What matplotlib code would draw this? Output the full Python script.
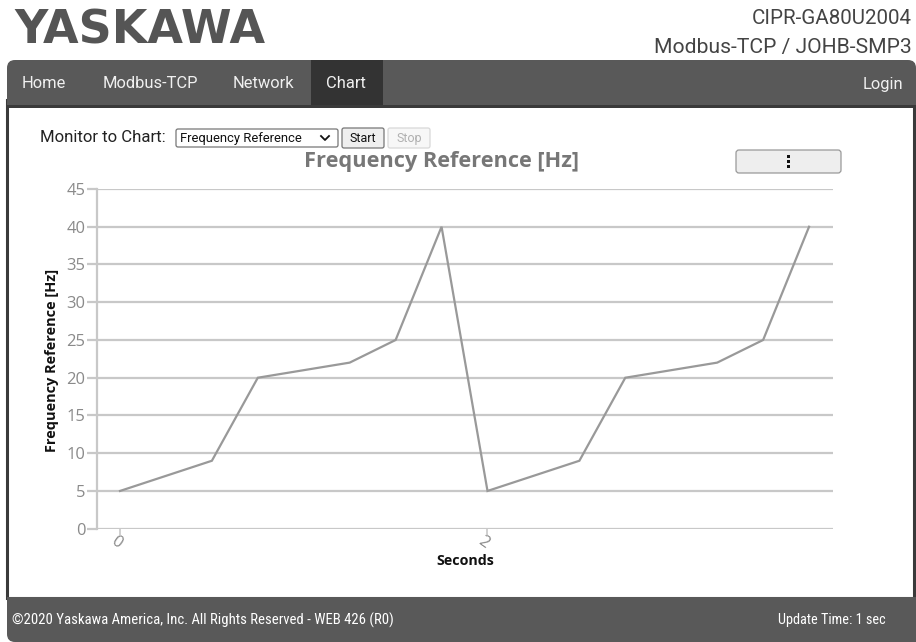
import matplotlib
matplotlib.use("Agg")
import matplotlib.pyplot as plt
from matplotlib.patches import FancyBboxPatch, Rectangle
from matplotlib.transforms import offset_copy

# ---- data ----
seconds = [0.0, 0.5, 0.75, 1.25, 1.5, 1.75, 2.0, 2.5, 2.75, 3.25, 3.5, 3.75]
freq_ref = [5, 9, 20, 22, 25, 40, 5, 9, 20, 22, 25, 40]
y_ticks = [0, 5, 10, 15, 20, 25, 30, 35, 40, 45]
x_ticks = [0, 2]
x_tick_labels = ["0", "2"]
nav_items = ["Home", "Modbus-TCP", "Network", "Chart"]
title = "Frequency Reference [Hz]"
y_label = "Frequency Reference [Hz]"
x_label = "Seconds"

W, H = 916, 642
fig = plt.figure(figsize=(W / 100, H / 100), dpi=100)
fig.patch.set_facecolor("white")

PX = 0.72  # px -> pt
COND = ["Liberation Sans Narrow", "Roboto Condensed", "DejaVu Sans Condensed", "Roboto"]

bg = fig.add_axes([0, 0, 1, 1], zorder=0)
bg.set_xlim(0, W)
bg.set_ylim(H, 0)
bg.axis("off")

# logo and header
bg.text(14, 31, "YASKAWA", fontsize=46 * PX, fontweight="bold", color="#555555",
        family="DejaVu Sans", va="center", ha="left")
bg.text(912, 18, "CIPR-GA80U2004", fontsize=20.5 * PX, color="#444444",
        family="Roboto", va="center", ha="right")
bg.text(912, 47, "Modbus-TCP / JOHB-SMP3", fontsize=21.2 * PX, color="#444444",
        family="Roboto", va="center", ha="right")

# content border
bg.add_patch(Rectangle((7, 100), 907, 498, facecolor="white", edgecolor="#3a3a3a", lw=2.2))

# nav bar
bg.add_patch(FancyBboxPatch((7, 60), 909, 48, boxstyle="round,pad=0,rounding_size=8",
                            facecolor="#595959", edgecolor="none"))
bg.add_patch(Rectangle((7, 80), 909, 26, facecolor="#595959", edgecolor="none"))
bg.add_patch(Rectangle((311, 60), 72, 46, facecolor="#333333", edgecolor="none"))
bg.add_patch(Rectangle((7, 105), 909, 3, facecolor="#3a3a3a", edgecolor="none"))
nav_x = [22, 103, 233, 326]
for x, t in zip(nav_x, nav_items):
    bg.text(x, 84, t, fontsize=16.5 * PX, color="#f0f0f0", family="Roboto",
            va="center", ha="left")
bg.text(903, 84, "Login", fontsize=16.5 * PX, color="#f0f0f0", family="Roboto",
        va="center", ha="right")

# footer
bg.add_patch(FancyBboxPatch((7, 597), 909, 45, boxstyle="round,pad=0,rounding_size=8",
                            facecolor="#595959", edgecolor="none"))
bg.add_patch(Rectangle((7, 597), 909, 20, facecolor="#595959", edgecolor="none"))
bg.add_patch(Rectangle((900, 597), 16, 45, facecolor="#595959", edgecolor="none"))
bg.text(12, 620, "\u00a92020 Yaskawa America, Inc. All Rights Reserved - WEB 426 (R0)",
        fontsize=14.7 * PX, color="white", family=COND, va="center", ha="left")
bg.text(886, 620, "Update Time: 1 sec", fontsize=14.3 * PX, color="white",
        family=COND, va="center", ha="right")

# controls
bg.text(40, 138, "Monitor to Chart:", fontsize=16.8 * PX, color="#222222", family="Roboto",
        va="center", ha="left")
bg.add_patch(FancyBboxPatch((176, 129), 162, 18, boxstyle="round,pad=0,rounding_size=2",
                            facecolor="white", edgecolor="#767676", lw=0.9))
bg.text(180, 138.5, "Frequency Reference", fontsize=13 * PX, color="#111111",
        family="Roboto", va="center", ha="left")
bg.plot([321, 325, 329], [136, 140, 136], color="#111111", lw=1.3)
bg.add_patch(FancyBboxPatch((342, 128), 42, 20, boxstyle="round,pad=0,rounding_size=2",
                            facecolor="#efefef", edgecolor="#767676", lw=0.9))
bg.text(363, 138.5, "Start", fontsize=12.5 * PX, color="#111111", family="Roboto",
        va="center", ha="center")
bg.add_patch(FancyBboxPatch((388, 128), 42, 20, boxstyle="round,pad=0,rounding_size=2",
                            facecolor="#f7f7f7", edgecolor="#d8d8d8", lw=0.9))
bg.text(409, 138.5, "Stop", fontsize=12.5 * PX, color="#b0b0b0", family="Roboto",
        va="center", ha="center")

# chart title and menu button
bg.text(442, 162, title, fontsize=21.8 * PX, fontweight="bold", color="#777777",
        family="Open Sans", va="center", ha="center")
bg.add_patch(FancyBboxPatch((736, 150), 105, 23, boxstyle="round,pad=0,rounding_size=3",
                            facecolor="#eeeeee", edgecolor="#999999", lw=0.9))
for yy in (156.5, 161.5, 166.5):
    bg.add_patch(Rectangle((787, yy - 1.3), 2.8, 2.8, facecolor="#111111", edgecolor="none"))

# chart axes
left, right, top, bottom = 97, 833, 189, 528.7
ax = fig.add_axes([left / W, 1 - bottom / H, (right - left) / W, (bottom - top) / H], zorder=2)
ax.set_facecolor("none")
px_per_sec = 183.75
x0 = 120
ax.set_xlim((left - x0) / px_per_sec, (right - x0) / px_per_sec)
ax.set_ylim(0, 45)
grid_c = "#c8c8c8"
for s in ["top", "right", "bottom"]:
    ax.spines[s].set_visible(False)
ax.spines["left"].set_color(grid_c)
ax.spines["left"].set_linewidth(1.6)
ax.set_yticks(y_ticks)
ax.set_yticklabels([str(v) for v in y_ticks], fontsize=16.5 * PX, color="#8a8a8a",
                   family="Open Sans")
ax.yaxis.grid(True, color=grid_c, lw=1.6)
ax.set_axisbelow(True)
ax.tick_params(axis="y", length=7, width=1.6, color=grid_c, pad=1.5)
ax.set_xticks(x_ticks)
ax.set_xticklabels(x_tick_labels, fontsize=16.5 * PX, color="#8a8a8a", family="Open Sans",
                   rotation=-35)
ax.tick_params(axis="x", length=4, width=1.2, color=grid_c, pad=0)
for lbl in ax.get_xticklabels():
    lbl.set_transform(offset_copy(lbl.get_transform(), fig=fig, x=-4, y=1, units="dots"))
ax.plot(seconds, freq_ref, color="#999999", lw=1.6, solid_joinstyle="miter", zorder=3,
        clip_on=False)

# axis labels in pixel coords
bg.text(52, 360, y_label, rotation=90, fontsize=14.5 * PX, fontweight="bold",
        color="#111111", family="Open Sans", va="center", ha="center")
bg.text(465, 561, x_label, fontsize=14.3 * PX, fontweight="bold", color="#111111",
        family="Open Sans", va="center", ha="center")

fig.savefig("out.png", dpi=100, facecolor="white")
